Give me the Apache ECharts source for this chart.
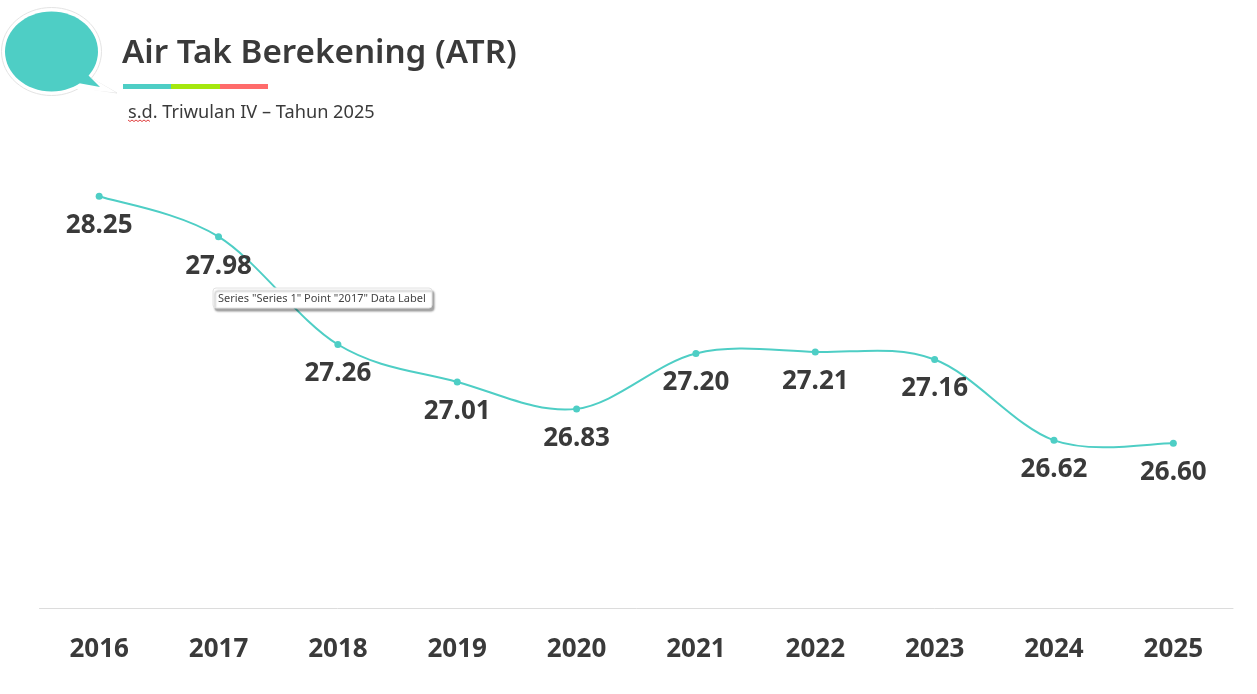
<!DOCTYPE html>
<html><head><meta charset="utf-8">
<style>html,body{margin:0;padding:0;background:#fff}#c{width:1257px;height:694px}</style>
<script src="https://cdn.jsdelivr.net/npm/echarts@6/dist/echarts.min.js"></script>
</head><body><div id="c"></div>
<script>
const categories = ['2016','2017','2018','2019','2020','2021','2022','2023','2024','2025'];
const values = [28.25,27.98,27.26,27.01,26.83,27.20,27.21,27.16,26.62,26.60];
const titleText = 'Air Tak Berekening (ATR)';
const subtitleText = 's.d. Triwulan IV – Tahun 2025';
const noteText = 'Series "Series 1" Point "2017" Data Label';
const font = '"Noto Sans","Open Sans",sans-serif';
const teal = '#4ECEC5', dark = '#3A3A3A';
const chart = echarts.init(document.getElementById('c'), null, {renderer:'canvas'});
function segment(params, api){
  const i = params.dataIndex;
  if(i >= values.length-1) return null;
  const pt = k => api.coord([Math.max(0,Math.min(values.length-1,k)), values[Math.max(0,Math.min(values.length-1,k))]]);
  const p0=pt(i-1), p1=pt(i), p2=pt(i+1), p3=pt(i+2);
  const c1=[p1[0]+(p2[0]-p0[0])/6, p1[1]+(p2[1]-p0[1])/6];
  const c2=[p2[0]-(p3[0]-p1[0])/6, p2[1]-(p3[1]-p1[1])/6];
  return {type:'path',
    shape:{pathData:`M${p1[0]} ${p1[1]}C${c1[0]} ${c1[1]} ${c2[0]} ${c2[1]} ${p2[0]} ${p2[1]}`},
    style:{fill:null,stroke:teal,lineWidth:2},silent:true};
}
chart.setOption({
  animation:false,
  backgroundColor:'#fff',
  grid:{left:39.5,right:24,top:84,bottom:86,containLabel:false},
  xAxis:{type:'category',data:categories,boundaryGap:true,
    axisLine:{lineStyle:{color:'#DCDCDC',width:1}},axisTick:{show:false},
    axisLabel:{color:dark,fontFamily:font,fontWeight:'bold',fontSize:26,margin:29}},
  yAxis:{type:'value',min:25.5,max:29,show:false,splitLine:{show:false}},
  series:[
    {type:'custom',data:values.map((v,i)=>[i,v]),renderItem:segment,encode:{x:0,y:1},z:2,clip:false},
    {type:'line',data:values,symbol:'circle',symbolSize:7,z:3,
    lineStyle:{opacity:0},itemStyle:{color:teal},
    label:{show:true,position:'bottom',distance:13,color:dark,fontFamily:font,fontWeight:'bold',fontSize:26,
      formatter:p=>p.value.toFixed(2)}}],
  graphic:[
    {type:'polygon',shape:{points:[[80,72],[117,93],[70,86]]},style:{fill:'#fff',stroke:'#E8E8E8',lineWidth:1},z:10},
    {type:'ellipse',shape:{cx:51.5,cy:51.5,rx:50,ry:44},style:{fill:'#fff',stroke:'#E4E4E4',lineWidth:1},z:11},
    {type:'polygon',shape:{points:[[78,70],[116,92.5],[68,88]]},style:{fill:'#fff'},z:11},
    {type:'ellipse',shape:{cx:51.5,cy:51.5,rx:46.5,ry:40},style:{fill:teal},z:12},
    {type:'polygon',shape:{points:[[87,74],[100,87],[78,83]]},style:{fill:teal},z:13},
    {type:'text',style:{x:122,y:54,text:titleText,font:'600 33.2px '+font,fill:dark,textVerticalAlign:'middle'},z:12},
    {type:'rect',shape:{x:123,y:84,width:48,height:5},style:{fill:teal},z:12},
    {type:'rect',shape:{x:171,y:84,width:49,height:5},style:{fill:'#A4E80E'},z:12},
    {type:'rect',shape:{x:220,y:84,width:48,height:5},style:{fill:'#FF6B6B'},z:12},
    {type:'text',style:{x:128,y:112.5,text:subtitleText,font:'18.2px '+font,fill:dark,textVerticalAlign:'middle'},z:12},
    {type:'polyline',shape:{points:[[128,120],[130,121.5],[132,120],[134,121.5],[136,120],[138,121.5],[140,120],[142,121.5],[144,120],[146,121.5],[148,120],[150,121.5]]},style:{stroke:'#E04040',lineWidth:1,fill:null},z:12},
    {type:'rect',shape:{x:213,y:288,width:219,height:20,r:3},style:{fill:'#fff',stroke:'#E2E2E2',lineWidth:1,shadowBlur:2,shadowOffsetX:2,shadowOffsetY:3,shadowColor:'rgba(0,0,0,0.35)'},z:20},
    {type:'text',style:{x:218,y:298.5,text:noteText,font:'11px '+font,fill:'#444',textVerticalAlign:'middle'},z:21}
  ]
});
</script></body></html>
